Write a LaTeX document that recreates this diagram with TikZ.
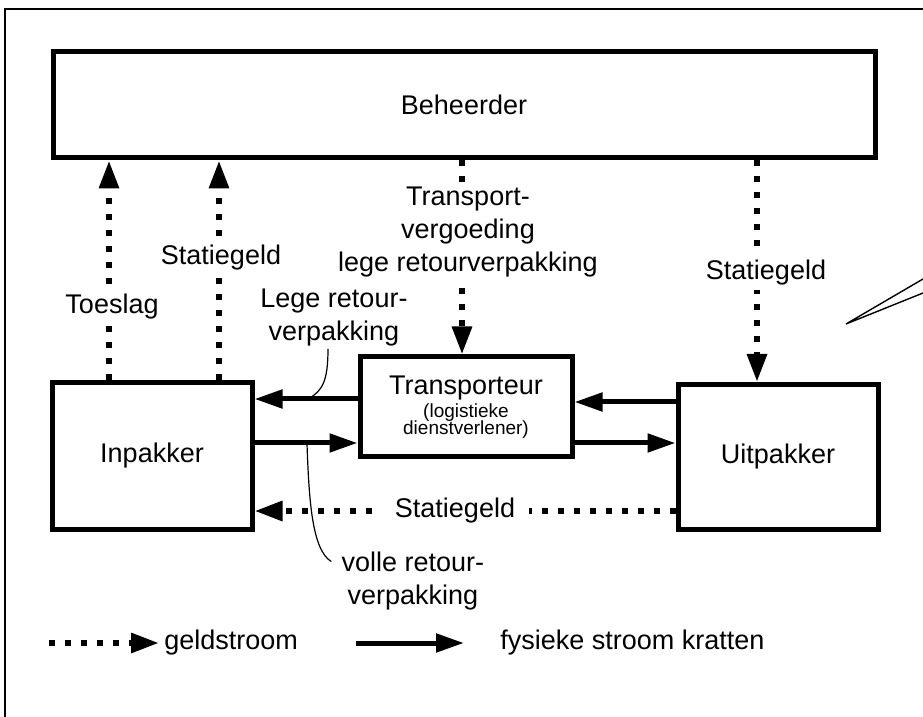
\documentclass[tikz,border=0pt]{standalone}
\usepackage{fontspec}
\setmainfont{Liberation Sans}
\usetikzlibrary{arrows.meta}

\newcommand{\klein}{\fontsize{9.5}{8.5}\selectfont}

\begin{document}
\begin{tikzpicture}[x=0.5pt, y=-0.5pt,
    every node/.style={font=\fontsize{13.5}{16.5}\selectfont},
    doos/.style={draw, line width=2.5pt, inner sep=0pt, align=center},
    fysiek/.style={line width=2.5pt, -{Triangle[length=14pt,width=9pt]}},
    geld/.style={line width=3pt, dash pattern=on 3pt off 5pt, -{Triangle[length=14pt,width=9.5pt]}},
    wijzer/.style={line width=0.6pt},
    tekst/.style={fill=white, inner sep=2pt, align=center}]

    \useasboundingbox (0,0) rectangle (923,717);
    \draw[line width=1pt] (5,717) -- (5,9) -- (923,9);

    % Actoren
    \node[doos, minimum width=411pt, minimum height=53pt] (beh) at (464,105) {Beheerder};
    \node[doos, minimum width=100pt, minimum height=73.5pt] (in) at (152,456) {Inpakker};
    \node[doos, minimum width=106pt, minimum height=50pt] (trans) at (466,407)
        {Transporteur\\[-5pt]{\klein(logistieke}\\[-8pt]{\klein dienstverlener)}};
    \node[doos, minimum width=100pt, minimum height=72.5pt] (uit) at (778,457) {Uitpakker};

    % Hulpcoordinaten
    \coordinate (k1) at (109,0);
    \coordinate (k2) at (219,0);
    \coordinate (k3) at (462,0);
    \coordinate (k4) at (757,0);
    \coordinate (r1) at (0,399);
    \coordinate (r2) at (0,443);
    \coordinate (r3) at (0,402);
    \coordinate (r4) at (0,511);

    % Geldstromen
    \draw[geld] (in.north -| k1) -- (beh.south -| k1);
    \draw[geld] (in.north -| k2) -- (beh.south -| k2);
    \draw[geld] (beh.south -| k3) -- (trans.north -| k3);
    \draw[geld] (beh.south -| k4) -- (uit.north -| k4);
    \draw[geld] (uit.west |- r4) -- (in.east |- r4);

    % Fysieke stromen
    \draw[fysiek] (trans.west |- r1) -- (in.east |- r1);
    \draw[fysiek] (in.east |- r2) -- (trans.west |- r2);
    \draw[fysiek] (uit.west |- r3) -- (trans.east |- r3);
    \draw[fysiek] (trans.east |- r2) -- (uit.west |- r2);

    % Labels
    \node[tekst] (toeslag) at (112,307) {Toeslag};
    \node[tekst] (stat1) at (221,258) {Statiegeld};
    \node[tekst] (vergoed) at (468,232) {Transport-\\vergoeding\\lege retourverpakking};
    \node[tekst] (stat2) at (766,273) {Statiegeld};
    \node[tekst, inner xsep=7pt] (stat3) at (455,511) {Statiegeld};
    \node[align=center, inner sep=1pt] (lege) at (334,318) {Lege retour-\\verpakking};
    \node[align=center, inner sep=1pt] (volle) at (413,581) {volle retour-\\verpakking};

    \coordinate (p1) at (310,398);
    \coordinate (p2) at (307,444);
    \draw[wijzer] ([xshift=-3pt]lege.south) .. controls (328,382) and (322,390) .. (p1);
    \draw[wijzer] (p2) .. controls (309,500) and (312,550) .. ([xshift=-4pt,yshift=-6pt]volle.north west);

    % Legenda
    \coordinate (l1) at (49,643);
    \coordinate (l2) at (356,643);
    \node[anchor=west, inner sep=0pt] (geldtxt) at (164,643) {geldstroom};
    \node[anchor=west, inner sep=0pt] (fystxt) at (500,643) {fysieke stroom kratten};
    \draw[geld] (l1) -- ([xshift=-2.5pt]geldtxt.west);
    \draw[fysiek] (l2) -- (464,643);

    % Ballon
    \coordinate (c0) at (846,324);
    \draw[line width=0.7pt] (923,279) -- (c0) -- (923,293);
\end{tikzpicture}
\end{document}
